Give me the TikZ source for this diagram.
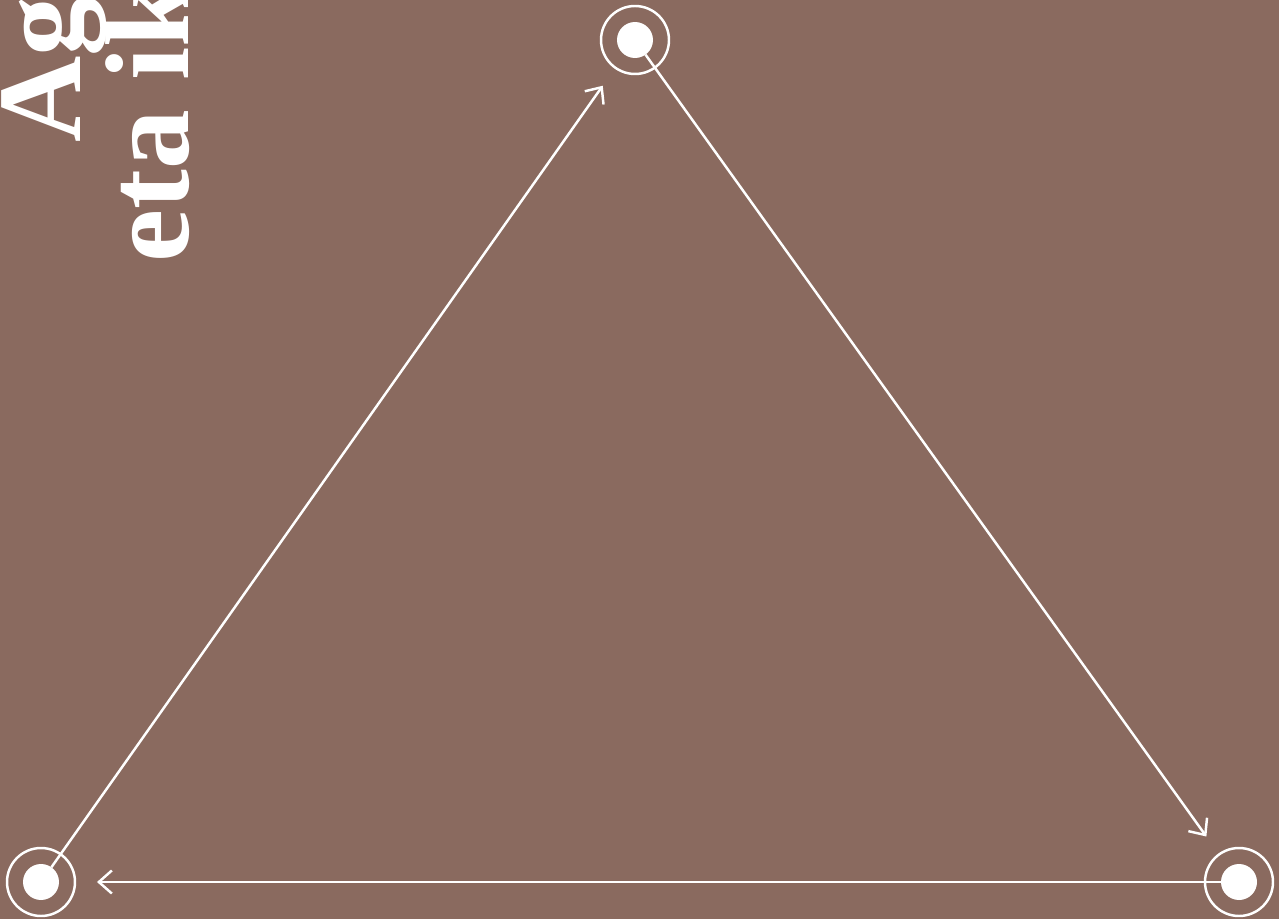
\documentclass[tikz,border=0pt]{standalone}
\usepackage{fontspec}
\usepackage{tikz}
\usetikzlibrary{arrows.meta}

\newfontfamily\titlefont{Liberation Serif}
\definecolor{bgbrown}{HTML}{8A6A5F}

\begin{document}
\begin{tikzpicture}[
    x=0.02cm, y=-0.02cm,
    dot/.style={circle, fill=white, inner sep=0pt, outer sep=0pt, minimum size=0.72cm},
    ring/.style={draw=white, line width=1.4pt},
    conn/.style={-{Straight Barb[length=2.6mm, width=4.6mm]}, draw=white, line width=1.4pt, shorten >=0.76cm},
    title/.style={rotate=90, anchor=base west, text=white, inner sep=0pt, font=\titlefont\fontsize{68}{72}\selectfont\bfseries},
]

% background, clipped to the page
\fill[bgbrown] (0,0) rectangle (1279,919);
\clip (0,0) rectangle (1279,919);

\node[title] (title1) at (80,143) {Ag};
\node[title] (title2) at (188,263) {eta ik};

\node[dot] (top) at (635,40) {};
\node[dot] (left) at (41,882) {};
\node[dot] (right) at (1239,882) {};

\draw[ring] (top) circle[radius=0.68cm];
\draw[ring] (left) circle[radius=0.68cm];
\draw[ring] (right) circle[radius=0.68cm];

\draw[conn] (left) -- (top);
\draw[conn] (top) -- (right);
\draw[conn] (right) -- (left);

\end{tikzpicture}
\end{document}
